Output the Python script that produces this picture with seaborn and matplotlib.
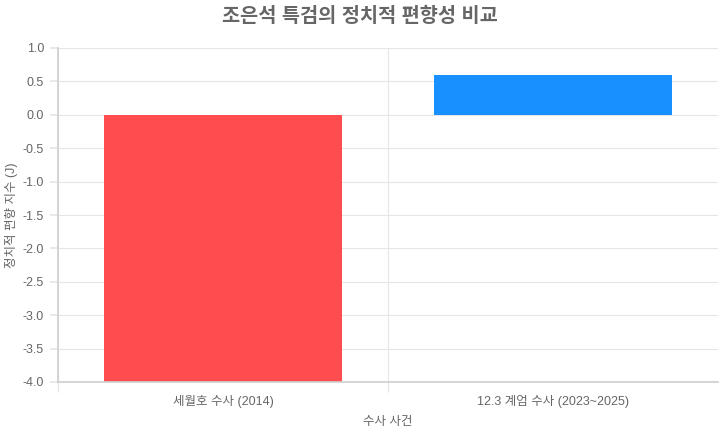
import numpy as np
import pandas as pd
import seaborn as sns
import matplotlib.pyplot as plt
from matplotlib.ticker import FixedLocator

# chart values
cases = ['세월호 수사 (2014)', '12.3 계엄 수사 (2023~2025)']
bias_index = [-4.0, 0.6]
bar_colors = ['#FF4D4F', '#1890FF']
y_ticks = [-4.0, -3.5, -3.0, -2.5, -2.0, -1.5, -1.0, -0.5, 0.0, 0.5, 1.0]

sns.set_theme(style='white')
plt.rcParams['font.family'] = ['Liberation Sans', 'Noto Sans CJK KR', 'DejaVu Sans']

df = pd.DataFrame({'case': cases, 'value': bias_index})

fig = plt.figure(figsize=(7.19, 4.33), dpi=100)
ax = fig.add_axes([58 / 719, 1 - 382 / 433, 660 / 719, 334 / 433])

sns.barplot(data=df, x='case', y='value', hue='case', palette=bar_colors,
            width=0.72, legend=False, ax=ax, edgecolor='none', saturation=1)

ax.set_ylim(-4.0, 1.0)
ax.set_xlim(-0.5, 1.5)
ax.set_yticks(y_ticks)
ax.set_yticklabels([f'{v:.1f}' for v in y_ticks])
ax.xaxis.set_minor_locator(FixedLocator([-0.5, 0.5]))

ax.grid(axis='y', color='#e6e6e6', linewidth=0.8)
ax.grid(axis='x', which='minor', color='#e6e6e6', linewidth=0.8)
ax.set_axisbelow(True)

for side in ['top', 'right']:
    ax.spines[side].set_visible(False)
ax.spines['left'].set_color('#d0d0d0')
ax.spines['bottom'].set_color('#d0d0d0')

ax.tick_params(axis='y', which='major', length=6, color='#e6e6e6', labelsize=9,
               labelcolor='#666666', pad=4, left=True)
ax.tick_params(axis='x', which='major', length=0, labelsize=9, labelcolor='#666666', pad=9)
ax.tick_params(axis='x', which='minor', length=7, color='#e6e6e6', bottom=True)

ax.set_xlabel('수사 사건', fontsize=9, color='#666666', labelpad=6)
ax.set_ylabel('정치적 편향 지수 (J)', fontsize=9, color='#666666')
ax.yaxis.set_label_coords(-0.06, 0.5)

fig.suptitle('조은석 특검의 정치적 편향성 비교', x=0.5, y=0.985, fontsize=14.2,
             fontweight='bold', color='#666666')

fig.savefig('out.png', dpi=100)
